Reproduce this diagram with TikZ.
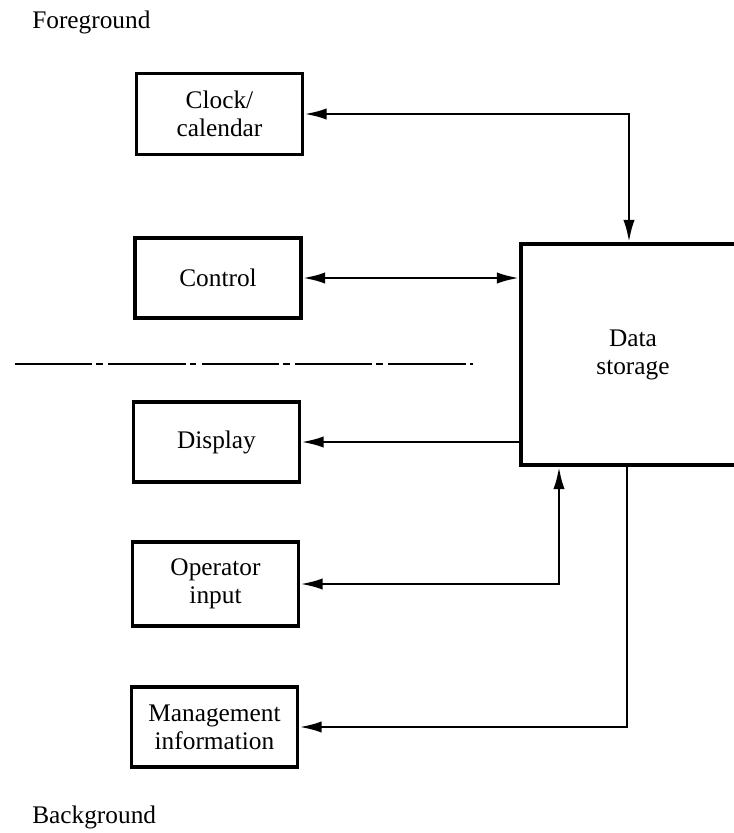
\documentclass[tikz,border=0pt]{standalone}
\usepackage{fontspec}
\setmainfont{Liberation Serif}
\usetikzlibrary{arrows.meta}
\begin{document}
\begin{tikzpicture}[x=0.75pt, y=-0.75pt,
        font=\fontsize{19}{21}\selectfont,
        >={Latex[length=17pt, width=8.5pt]},
        unit/.style={draw, line width=2.3pt, minimum width=124.5pt, minimum height=60pt, align=center, inner sep=0pt},
        link/.style={line width=2.2pt}]
    \useasboundingbox (0,0) rectangle (733,833);

    % Intestazioni dei due livelli
    \node[anchor=base west, inner sep=0pt] (fg) at (32,28) {Foreground};
    \node[anchor=base west, inner sep=0pt] (bg) at (32,823) {Background};

    % Moduli a sinistra
    \node[unit, minimum height=61pt] (clock) at (219.5,114) {Clock/\\calendar};
    \node[unit] (control) at (218,278) {Control};
    \node[unit] (display) at (216.5,442) {Display};
    \node[unit, minimum height=63pt] (operator) at (215.5,584) {Operator\\input};
    \node[unit] (mgmt) at (214.5,727) {Management\\information};

    % Archivio dati (bordo destro fuori pagina)
    \node[unit, minimum width=168pt, minimum height=165.75pt] (data) at (633,354.5) {Data\\storage};

    % Separazione foreground / background
    \coordinate (sepA) at (15,364);
    \coordinate (sepB) at (473,364);
    \draw[line width=1.8pt, dash pattern=on 58pt off 3pt on 5pt off 4pt] (sepA) -- (sepB);

    % Collegamenti
    \draw[link, <->] (clock.east) -| ([xshift=-3pt]data.north);
    \draw[link, <->] (control.east) -- (control.east -| data.west);
    \draw[link, ->] (data.west |- display.east) -- (display.east);
    \draw[link, <->] (operator.east) -| ([xshift=-55.5pt]data.south);
    \draw[link, ->] ([xshift=-4.5pt]data.south) |- (mgmt.east);

\end{tikzpicture}
\end{document}
